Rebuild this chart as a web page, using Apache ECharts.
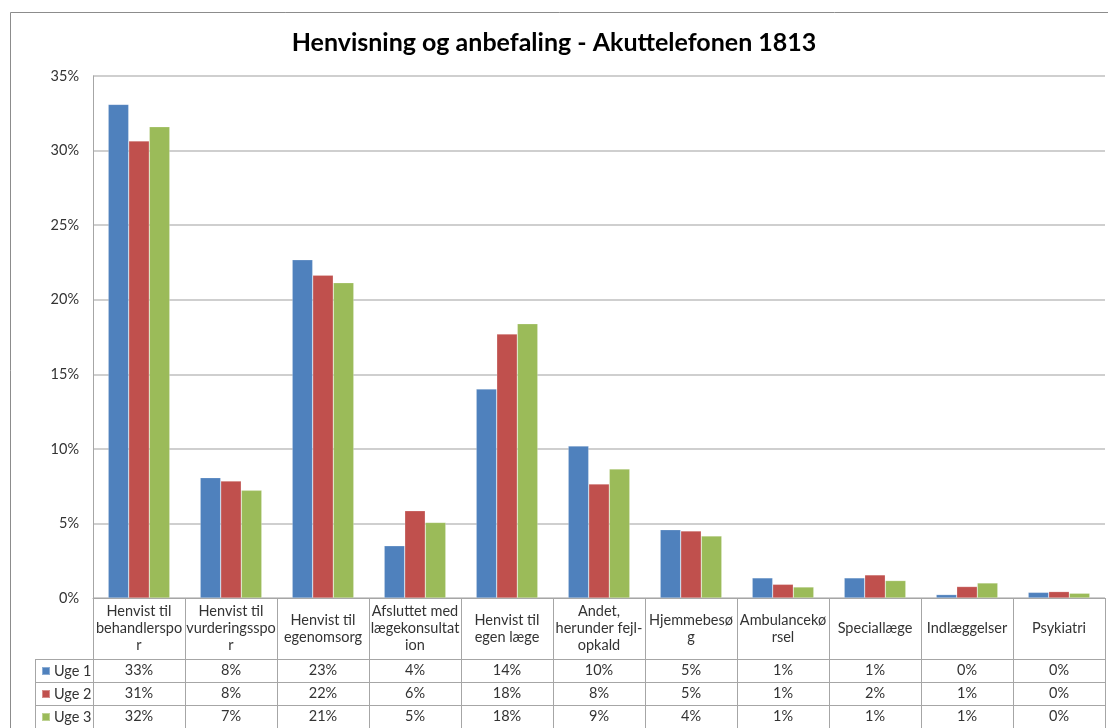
<!DOCTYPE html>
<html><head><meta charset="utf-8">
<script src="https://cdn.jsdelivr.net/npm/echarts@6/dist/echarts.min.js"></script>
<style>html,body{margin:0;padding:0;background:#fff}#c{width:1108px;height:728px}</style>
</head><body><div id="c"></div>
<script>
const titleText = 'Henvisning og anbefaling - Akuttelefonen 1813';
const categories = [
  'Henvist til\nbehandlerspo\nr',
  'Henvist til\nvurderingsspo\nr',
  'Henvist til\negenomsorg',
  'Afsluttet med\nlægekonsultat\nion',
  'Henvist til\negen læge',
  'Andet,\nherunder fejl-\nopkald',
  'Hjemmebesø\ng',
  'Ambulancekø\nrsel',
  'Speciallæge',
  'Indlæggelser',
  'Psykiatri'
];
const seriesNames = ['Uge 1', 'Uge 2', 'Uge 3'];
const uge1 = [33.1, 8.07, 22.68, 3.5, 14.01, 10.19, 4.58, 1.35, 1.35, 0.23, 0.38];
const uge2 = [30.65, 7.84, 21.65, 5.85, 17.7, 7.64, 4.5, 0.92, 1.55, 0.77, 0.43];
const uge3 = [31.6, 7.22, 21.14, 5.07, 18.39, 8.65, 4.16, 0.74, 1.17, 1.01, 0.32];
const colors = ['#4f81bd', '#c0504d', '#9bbb59'];

const seriesData = [uge1, uge2, uge3];
const FONT = 'Lato';
const FS = 14.5;
const TXT = '#333333';
const LINE = '#a6a6a6';
const GRIDC = '#bfbfbf';

const chart = echarts.init(document.getElementById('c'));

const tableAxes = seriesData.map((arr, i) => ({
  type: 'category',
  gridIndex: 0,
  position: 'bottom',
  offset: 61 + 23 * i,
  data: arr.map(v => Math.round(v) + '%'),
  axisLine: { show: true, onZero: false, lineStyle: { color: LINE, width: 1 } },
  axisTick: { show: true, length: 23, lineStyle: { color: LINE, width: 1 } },
  axisLabel: { interval: 0, margin: 11.5, verticalAlign: 'middle', color: TXT, fontSize: FS, fontFamily: FONT },
  splitLine: { show: false }
}));

const legends = seriesNames.map((n, i) => ({
  data: [n],
  orient: 'vertical',
  left: 41,
  top: 663 + 23 * i,
  padding: 0,
  icon: 'rect',
  itemWidth: 8,
  itemHeight: 8,
  selectedMode: false,
  textStyle: { fontSize: FS, color: TXT, fontFamily: FONT, lineHeight: 16, padding: [0, 0, 0, -1] }
}));

const option = {
  animation: false,
  backgroundColor: '#ffffff',
  textStyle: { fontFamily: FONT },
  title: {
    text: titleText,
    left: 'center',
    top: 25,
    textStyle: { fontSize: 25, fontWeight: 'bold', color: '#000000', fontFamily: FONT }
  },
  legend: legends,
  grid: { left: 93, right: 3, top: 76, bottom: 130 },
  xAxis: [{
    type: 'category',
    gridIndex: 0,
    position: 'bottom',
    data: categories,
    axisLine: { show: true, onZero: false, lineStyle: { color: LINE, width: 1 } },
    axisTick: { show: true, length: 61, lineStyle: { color: LINE, width: 1 } },
    axisLabel: { interval: 0, margin: 30.5, verticalAlign: 'middle', lineHeight: 17, color: TXT, fontSize: FS, fontFamily: FONT, hideOverlap: false },
    splitLine: { show: false }
  }].concat(tableAxes),
  yAxis: {
    type: 'value',
    min: 0,
    max: 35,
    interval: 5,
    axisLine: { show: true, lineStyle: { color: LINE, width: 1 } },
    axisTick: { show: false },
    axisLabel: { formatter: '{value}%', color: TXT, fontSize: FS, fontFamily: FONT, margin: 14 },
    splitLine: { show: true, lineStyle: { color: GRIDC, width: 1.5 } }
  },
  series: seriesData.map((arr, i) => ({
    name: seriesNames[i],
    type: 'bar',
    xAxisIndex: 0,
    data: arr,
    barGap: '0%',
    barCategoryGap: '33%',
    itemStyle: { color: colors[i], borderColor: 'rgba(255,255,255,0.35)', borderWidth: 0.6 },
    emphasis: { disabled: true }
  })),
  graphic: [
    { type: 'rect', silent: true, shape: { x: 10.5, y: 12.5, width: 1120, height: 740 }, style: { fill: 'none', stroke: '#8c8c8c', lineWidth: 1 } },
    { type: 'line', silent: true, shape: { x1: 35.5, y1: 659, x2: 35.5, y2: 728 }, style: { stroke: LINE, lineWidth: 1 } },
    { type: 'line', silent: true, shape: { x1: 35, y1: 659.5, x2: 93, y2: 659.5 }, style: { stroke: LINE, lineWidth: 1 } },
    { type: 'line', silent: true, shape: { x1: 35, y1: 682.5, x2: 93, y2: 682.5 }, style: { stroke: LINE, lineWidth: 1 } },
    { type: 'line', silent: true, shape: { x1: 35, y1: 705.5, x2: 93, y2: 705.5 }, style: { stroke: LINE, lineWidth: 1 } }
  ]
};
chart.setOption(option);
</script>
</body></html>
